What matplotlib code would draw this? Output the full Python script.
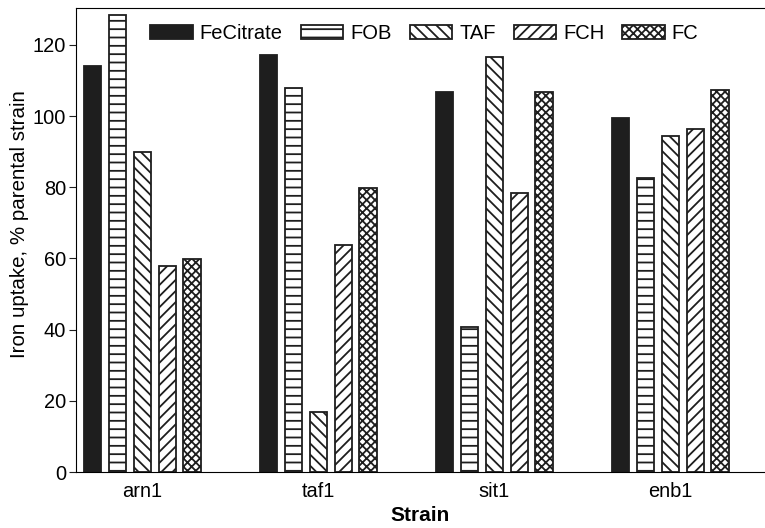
import numpy as np
import matplotlib
matplotlib.use("Agg")
import matplotlib.pyplot as plt

plt.rcParams['font.family'] = ['Liberation Sans', 'DejaVu Sans']
plt.rcParams['hatch.linewidth'] = 1.3
plt.rcParams['hatch.color'] = '#1e1e1e'

strains = ['arn1', 'taf1', 'sit1', 'enb1']
series = ['FeCitrate', 'FOB', 'TAF', 'FCH', 'FC']
fecitrate = [114.2, 117.2, 106.9, 99.6]
fob = [128.4, 107.8, 40.8, 82.6]
taf = [90.0, 16.9, 116.7, 94.5]
fch = [57.9, 63.8, 78.5, 96.4]
fc = [59.9, 79.9, 106.7, 107.4]

values = [fecitrate, fob, taf, fch, fc]
hatches = [None, '--', '\\\\\\', '///', 'xxxx']
faces = ['#1e1e1e', 'white', 'white', 'white', 'white']

fig = plt.figure(figsize=(7.65, 5.28), dpi=100)
ax = fig.add_axes([0.0993, 0.106, 0.9007, 0.879])

x = np.arange(len(strains))
step = 0.142
width = 0.102
for i, (name, vals) in enumerate(zip(series, values)):
    ax.bar(x + (i - 2) * step, vals, width, label=name, color=faces[i],
           edgecolor='#1e1e1e', hatch=hatches[i], linewidth=1.3)

ax.set_xlim(-0.378, 3.537)
ax.set_ylim(0, 130.4)
ax.spines['right'].set_visible(False)
ax.set_yticks(range(0, 121, 20))
ax.set_xticks(x)
ax.set_xticklabels(strains)
ax.tick_params(labelsize=14.4, direction='out', length=5, color='#1e1e1e', pad=2)
ax.tick_params(axis='x', length=0, pad=7)
ax.set_ylabel('Iron uptake, % parental strain', fontsize=14.8)
ax.yaxis.set_label_coords(-0.068, 0.534)
ax.set_xlabel('Strain', fontsize=15, fontweight='bold', labelpad=4)

leg = ax.legend(ncol=5, loc='center left', bbox_to_anchor=(0.108, 0.945), frameon=False,
                fontsize=14.5, handlelength=2.1, handleheight=0.7, handletextpad=0.35,
                columnspacing=0.9, borderaxespad=0, borderpad=0)

plt.savefig('out.png', dpi=100)
